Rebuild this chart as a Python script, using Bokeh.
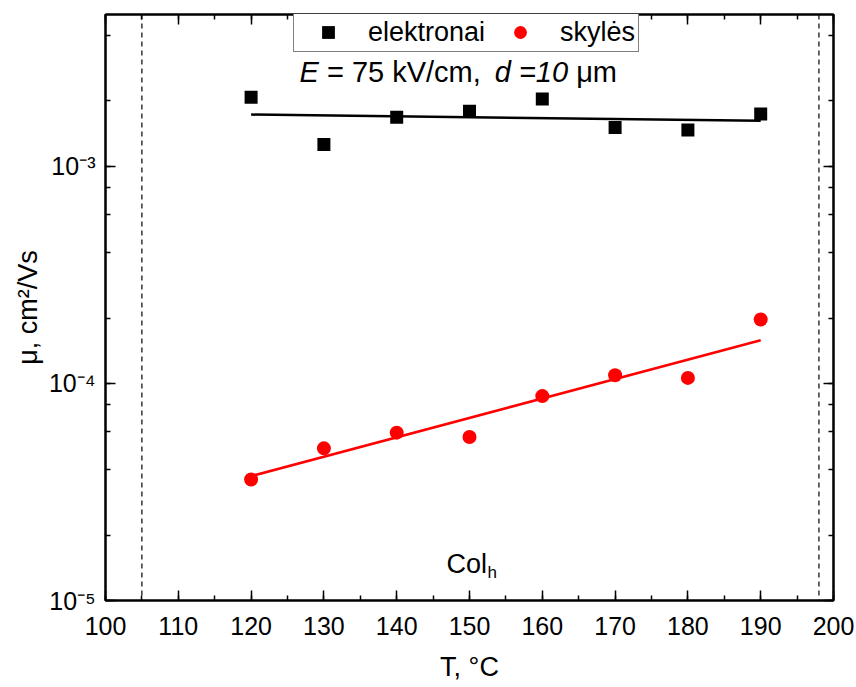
import math
from bokeh.plotting import figure
from bokeh.models import (Label, Legend, LegendItem, LinearAxis, LogAxis,
                          SingleIntervalTicker, LogTicker, CustomJSTickFormatter, Span)
from bokeh.embed import file_html
from bokeh.resources import INLINE

# ---- data ----
temps = [120, 130, 140, 150, 160, 170, 180, 190]
mu_electrons = [2.08e-3, 1.26e-3, 1.68e-3, 1.79e-3, 2.04e-3, 1.51e-3, 1.47e-3, 1.74e-3]
mu_holes = [3.61e-5, 5.02e-5, 5.93e-5, 5.66e-5, 8.74e-5, 1.09e-4, 1.06e-4, 1.97e-4]
fit_T = [120, 190]
fit_electrons = [1.73e-3, 1.62e-3]
fit_holes = [3.74e-5, 1.58e-4]
phase_bounds = [105, 198]
x_ticks_interval = 10
series_names = ["elektronai", "skylės"]

FONT = "Liberation Sans"
X0, X1 = 100, 200
Y0, Y1 = 1e-5, 5e-3
W, H = 856, 687

# page-pixel layout of frame (for placing annotations)
FL, FR, FT, FB = 105, 833, 14, 600


def px2x(px):
    return X0 + (px - FL) * (X1 - X0) / (FR - FL)


def py2y(py):
    ly0, ly1 = math.log10(Y0), math.log10(Y1)
    return 10 ** (ly0 + (FB - py) * (ly1 - ly0) / (FB - FT))


p = figure(width=W, height=H, x_range=(X0, X1), y_range=(Y0, Y1),
           y_axis_type="log", output_backend="svg", toolbar_location=None,
           min_border_left=FL, min_border_right=W - FR,
           min_border_top=FT, min_border_bottom=H - FB)
p.xgrid.visible = False
p.ygrid.visible = False
p.outline_line_color = "black"
p.outline_line_width = 2
p.background_fill_color = "white"
p.border_fill_color = "white"

xt = SingleIntervalTicker(interval=x_ticks_interval, num_minor_ticks=2)
yt = LogTicker(desired_num_ticks=3)

sup_js = """
const sup = {'-':'\u207b','0':'\u2070','1':'\u00b9','2':'\u00b2','3':'\u00b3','4':'\u2074','5':'\u2075','6':'\u2076','7':'\u2077','8':'\u2078','9':'\u2079'};
const e = Math.round(Math.log10(tick));
return '10' + String(e).split('').map(c => sup[c]).join('');
"""
empty_js = "return '';"


def style_axis(ax, labels=True):
    ax.axis_line_width = 2
    ax.axis_line_color = "black"
    ax.major_tick_in = 10
    ax.major_tick_out = 0
    ax.minor_tick_in = 5
    ax.minor_tick_out = 0
    ax.major_tick_line_width = 1.5
    ax.minor_tick_line_width = 1.5
    ax.major_tick_line_color = "black"
    ax.minor_tick_line_color = "black"
    if labels:
        ax.major_label_text_font = FONT
        ax.major_label_text_font_size = "25px"
        ax.major_label_text_color = "black"
        ax.axis_label_text_font = FONT
        ax.axis_label_text_font_size = "27px"
        ax.axis_label_text_font_style = "normal"
        ax.axis_label_text_color = "black"
    else:
        ax.major_label_text_font_size = "0px"
        ax.major_label_standoff = 0


p.xaxis.ticker = xt
style_axis(p.xaxis[0])
p.xaxis.major_label_standoff = 16
p.xaxis.axis_label = "T, \u00b0C"
p.xaxis.axis_label_standoff = 14

p.yaxis.ticker = yt
p.yaxis.formatter = CustomJSTickFormatter(code=sup_js)
style_axis(p.yaxis[0])
p.yaxis.major_label_standoff = 10
p.yaxis.axis_label = "\u03bc, cm\u00b2/Vs"
p.yaxis.axis_label_standoff = 3

top_ax = LinearAxis(ticker=xt, formatter=CustomJSTickFormatter(code=empty_js))
style_axis(top_ax, labels=False)
p.add_layout(top_ax, "above")
right_ax = LogAxis(ticker=yt, formatter=CustomJSTickFormatter(code=empty_js))
style_axis(right_ax, labels=False)
p.add_layout(right_ax, "right")

# phase boundaries
for b in phase_bounds:
    p.add_layout(Span(location=b, dimension="height", line_color="black",
                      line_width=1.2, line_dash="5 4"))

# fits
p.line(fit_T, fit_electrons, line_color="black", line_width=2.5)
p.line(fit_T, fit_holes, line_color="#ff0000", line_width=2.5)

sq = p.scatter(temps, mu_electrons, marker="square", size=13,
               fill_color="black", line_color="black", line_width=0)
ci = p.scatter(temps, mu_holes, marker="circle", size=14,
               fill_color="#ff0000", line_color="#ff0000", line_width=0)

legend = Legend(items=[LegendItem(label=series_names[0], renderers=[sq]),
                       LegendItem(label=series_names[1], renderers=[ci])],
                orientation="horizontal", location=(293 - FL, FB - 52),
                padding=3, glyph_width=62, glyph_height=32, label_standoff=9,
                spacing=4, border_line_color="black", border_line_width=1,
                label_text_font=FONT, label_text_font_size="27px",
                label_text_color="black",
                background_fill_alpha=1, margin=0)
p.add_layout(legend, "center")

# rendered text sits ~11 px lower than its nominal baseline
DY = 11


def lab(px, py, text, size, style="normal", baseline="alphabetic"):
    p.add_layout(Label(x=px2x(px), y=py2y(py - DY), text=text, text_font=FONT,
                       text_font_size=f"{size}px", text_font_style=style,
                       text_align="left", text_baseline=baseline,
                       text_color="black"))


# subtitle: "E = 75 kV/cm, d =10 μm"
fs = 29
sx, sy = 299, 82
lab(sx, sy, "E", fs, "italic")
lab(sx + 0.945 * fs, sy, "= 75 kV/cm,", fs)
lab(sx + 6.731 * fs, sy, "d =10", fs, "italic")
lab(sx + 9.539 * fs, sy, "\u03bcm", fs)

# Col_h
lab(446, 574, "Col", 27)
lab(487, 583, "h", 17)

open("out.html", "w").write(file_html(p, INLINE))
